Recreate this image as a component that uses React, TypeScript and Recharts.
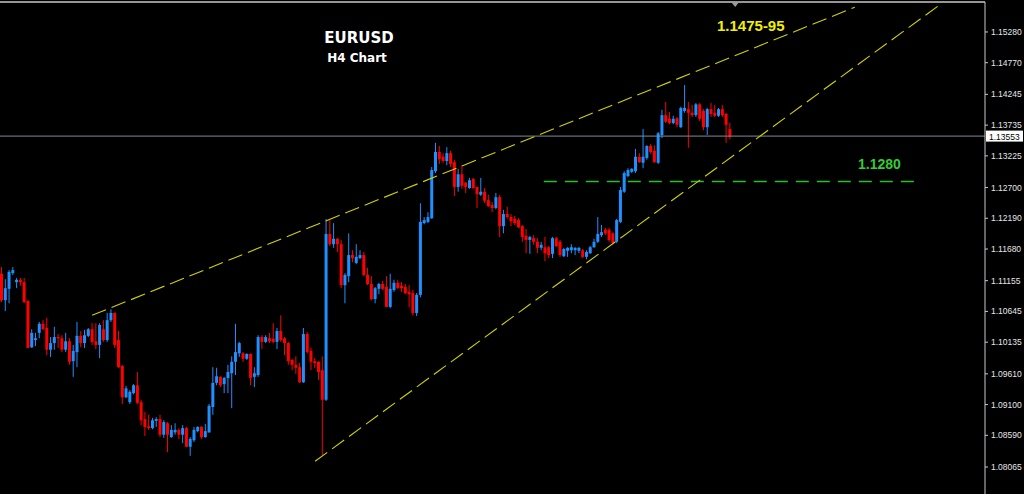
import { Bar, ComposedChart, ReferenceDot, ReferenceLine, XAxis, YAxis } from 'recharts'

document.body.style.margin = '0'
document.body.style.background = '#000'

// EURUSD H4 candles
const opens = [
  1.1127, 1.1083, 1.1102, 1.1128, 1.1113, 1.1117, 1.1113, 1.1082, 1.1005, 1.1017,
  1.1029, 1.1044, 1.1037, 1.1001, 1.1012, 1.1022, 1.1020, 1.1001, 1.1015, 1.0982,
  1.0997, 1.1024, 1.1012, 1.1024, 1.1035, 1.1015, 1.1009, 1.1035, 1.1017, 1.1050,
  1.1062, 1.1017, 1.0974, 1.0922, 1.0914, 1.0929, 1.0942, 1.0914, 1.0886, 1.0874,
  1.0871, 1.0883, 1.0886, 1.0860, 1.0879, 1.0856, 1.0864, 1.0868, 1.0860, 1.0871,
  1.0840, 1.0851, 1.0866, 1.0873, 1.0856, 1.0864, 1.0906, 1.0946, 1.0956, 1.0944,
  1.0954, 1.0962, 1.0981, 1.0995, 1.0995, 1.0986, 1.0994, 1.0956, 1.0959, 1.1022,
  1.1014, 1.1020, 1.1019, 1.1014, 1.1032, 1.1020, 1.1012, 1.0984, 1.0976, 1.0972,
  1.0947, 1.1027, 1.0999, 1.0982, 1.0981, 1.0967, 1.0918, 1.1193, 1.1176, 1.1185,
  1.1176, 1.1108, 1.1123, 1.1158, 1.1145, 1.1153, 1.1158, 1.1125, 1.1110, 1.1085,
  1.1102, 1.1110, 1.1105, 1.1072, 1.1100, 1.1112, 1.1107, 1.1105, 1.1097, 1.1095,
  1.1062, 1.1092, 1.1211, 1.1213, 1.1219, 1.1297, 1.1329, 1.1321, 1.1314, 1.1327,
  1.1312, 1.1271, 1.1292, 1.1278, 1.1269, 1.1284, 1.1271, 1.1258, 1.1263, 1.1249,
  1.1241, 1.1236, 1.1254, 1.1206, 1.1226, 1.1221, 1.1218, 1.1216, 1.1206, 1.1190,
  1.1183, 1.1186, 1.1180, 1.1170, 1.1171, 1.1171, 1.1160, 1.1186, 1.1180, 1.1156,
  1.1165, 1.1166, 1.1166, 1.1165, 1.1166, 1.1155, 1.1161, 1.1171, 1.1180, 1.1191,
  1.1200, 1.1200, 1.1194, 1.1180, 1.1213, 1.1263, 1.1289, 1.1296, 1.1297, 1.1321,
  1.1311, 1.1319, 1.1339, 1.1331, 1.1311, 1.1357, 1.1390, 1.1384, 1.1377, 1.1385,
  1.1370, 1.1397, 1.1400, 1.1394, 1.1390, 1.1408, 1.1397, 1.1370, 1.1400, 1.1394,
  1.1389, 1.1400, 1.1392, 1.1367,
]

const highs = [
  1.1138, 1.1118, 1.1133, 1.1138, 1.1120, 1.1120, 1.1120, 1.1083, 1.1035, 1.1029,
  1.1047, 1.1050, 1.1054, 1.1022, 1.1039, 1.1027, 1.1025, 1.1029, 1.1020, 1.1009,
  1.1047, 1.1032, 1.1034, 1.1037, 1.1045, 1.1045, 1.1045, 1.1050, 1.1062, 1.1068,
  1.1063, 1.1032, 1.0976, 1.0941, 1.0934, 1.0944, 1.0964, 1.0918, 1.0898, 1.0893,
  1.0888, 1.0889, 1.0893, 1.0884, 1.0881, 1.0876, 1.0879, 1.0871, 1.0876, 1.0873,
  1.0856, 1.0873, 1.0874, 1.0874, 1.0878, 1.0911, 1.0972, 1.0971, 1.0957, 1.0956,
  1.0976, 1.0990, 1.1044, 1.1014, 1.0997, 1.0995, 1.0995, 1.0972, 1.1025, 1.1025,
  1.1025, 1.1029, 1.1045, 1.1037, 1.1058, 1.1022, 1.1014, 1.0986, 1.0990, 1.0979,
  1.1037, 1.1030, 1.1004, 1.0987, 1.0982, 1.0990, 1.1218, 1.1216, 1.1211, 1.1186,
  1.1183, 1.1128, 1.1194, 1.1166, 1.1176, 1.1166, 1.1163, 1.1137, 1.1123, 1.1105,
  1.1112, 1.1115, 1.1123, 1.1127, 1.1117, 1.1117, 1.1113, 1.1110, 1.1108, 1.1100,
  1.1095, 1.1244, 1.1221, 1.1229, 1.1304, 1.1344, 1.1339, 1.1327, 1.1337, 1.1331,
  1.1316, 1.1301, 1.1307, 1.1279, 1.1286, 1.1286, 1.1271, 1.1286, 1.1269, 1.1258,
  1.1246, 1.1261, 1.1258, 1.1233, 1.1238, 1.1226, 1.1223, 1.1219, 1.1208, 1.1201,
  1.1190, 1.1191, 1.1186, 1.1180, 1.1188, 1.1173, 1.1188, 1.1188, 1.1183, 1.1170,
  1.1171, 1.1176, 1.1171, 1.1171, 1.1168, 1.1166, 1.1173, 1.1185, 1.1221, 1.1208,
  1.1203, 1.1203, 1.1196, 1.1218, 1.1271, 1.1297, 1.1302, 1.1302, 1.1334, 1.1327,
  1.1367, 1.1340, 1.1342, 1.1340, 1.1362, 1.1399, 1.1412, 1.1395, 1.1389, 1.1387,
  1.1404, 1.1440, 1.1412, 1.1407, 1.1410, 1.1410, 1.1400, 1.1402, 1.1410, 1.1407,
  1.1402, 1.1407, 1.1394, 1.1377,
]

const lows = [
  1.1080, 1.1065, 1.1078, 1.1125, 1.1103, 1.1107, 1.1078, 1.1004, 1.1004, 1.1007,
  1.1020, 1.1034, 1.0992, 1.0989, 1.1001, 1.1004, 1.0997, 1.0997, 1.0976, 1.0956,
  1.0972, 1.1005, 1.1004, 1.1022, 1.1009, 1.1002, 1.0987, 1.1014, 1.1014, 1.1047,
  1.1004, 1.0971, 1.0911, 1.0921, 1.0911, 1.0927, 1.0911, 1.0876, 1.0858, 1.0868,
  1.0869, 1.0873, 1.0856, 1.0855, 1.0831, 1.0855, 1.0860, 1.0853, 1.0846, 1.0840,
  1.0825, 1.0848, 1.0864, 1.0853, 1.0855, 1.0863, 1.0893, 1.0942, 1.0939, 1.0929,
  1.0929, 1.0904, 1.0959, 1.0989, 1.0981, 1.0984, 1.0942, 1.0939, 1.0956, 1.1002,
  1.1012, 1.1012, 1.1012, 1.1002, 1.1014, 1.0992, 1.0976, 1.0967, 1.0961, 1.0946,
  1.0946, 1.0995, 1.0967, 1.0971, 1.0951, 1.0826, 1.0916, 1.1173, 1.1170, 1.1163,
  1.1103, 1.1078, 1.1113, 1.1146, 1.1143, 1.1151, 1.1123, 1.1108, 1.1083, 1.1078,
  1.1093, 1.1100, 1.1072, 1.1070, 1.1097, 1.1102, 1.1097, 1.1093, 1.1072, 1.1058,
  1.1057, 1.1088, 1.1209, 1.1211, 1.1218, 1.1294, 1.1309, 1.1311, 1.1307, 1.1304,
  1.1256, 1.1263, 1.1268, 1.1261, 1.1268, 1.1268, 1.1236, 1.1256, 1.1244, 1.1238,
  1.1229, 1.1234, 1.1188, 1.1194, 1.1218, 1.1206, 1.1208, 1.1203, 1.1180, 1.1161,
  1.1160, 1.1175, 1.1161, 1.1166, 1.1148, 1.1153, 1.1153, 1.1171, 1.1155, 1.1155,
  1.1155, 1.1161, 1.1158, 1.1161, 1.1153, 1.1151, 1.1160, 1.1170, 1.1178, 1.1188,
  1.1191, 1.1180, 1.1176, 1.1178, 1.1211, 1.1261, 1.1287, 1.1294, 1.1294, 1.1311,
  1.1302, 1.1316, 1.1326, 1.1311, 1.1309, 1.1352, 1.1377, 1.1375, 1.1375, 1.1370,
  1.1369, 1.1394, 1.1336, 1.1387, 1.1387, 1.1380, 1.1365, 1.1357, 1.1387, 1.1387,
  1.1387, 1.1387, 1.1344, 1.1350,
]

const closes = [
  1.1083, 1.1103, 1.1130, 1.1133, 1.1117, 1.1113, 1.1080, 1.1004, 1.1029, 1.1020,
  1.1044, 1.1035, 1.1001, 1.1012, 1.1022, 1.1020, 1.1001, 1.1015, 1.0981, 1.0999,
  1.1024, 1.1012, 1.1025, 1.1035, 1.1014, 1.1009, 1.1042, 1.1017, 1.1050, 1.1062,
  1.1009, 1.0972, 1.0922, 1.0937, 1.0931, 1.0942, 1.0913, 1.0884, 1.0873, 1.0871,
  1.0884, 1.0886, 1.0860, 1.0881, 1.0860, 1.0868, 1.0868, 1.0860, 1.0871, 1.0840,
  1.0853, 1.0868, 1.0873, 1.0856, 1.0866, 1.0908, 1.0946, 1.0957, 1.0942, 1.0954,
  1.0964, 1.0981, 1.0997, 1.1012, 1.0986, 1.0994, 1.0954, 1.0962, 1.1022, 1.1014,
  1.1022, 1.1015, 1.1014, 1.1032, 1.1017, 1.1012, 1.0982, 1.0976, 1.0971, 1.0947,
  1.1027, 1.0997, 1.0981, 1.0979, 1.0964, 1.0918, 1.1193, 1.1176, 1.1185, 1.1176,
  1.1108, 1.1125, 1.1158, 1.1153, 1.1155, 1.1158, 1.1125, 1.1110, 1.1085, 1.1103,
  1.1110, 1.1102, 1.1072, 1.1102, 1.1112, 1.1103, 1.1103, 1.1095, 1.1093, 1.1062,
  1.1092, 1.1213, 1.1216, 1.1221, 1.1299, 1.1329, 1.1317, 1.1314, 1.1327, 1.1309,
  1.1271, 1.1292, 1.1273, 1.1271, 1.1282, 1.1269, 1.1259, 1.1263, 1.1248, 1.1239,
  1.1236, 1.1254, 1.1206, 1.1226, 1.1221, 1.1214, 1.1211, 1.1204, 1.1188, 1.1183,
  1.1188, 1.1180, 1.1170, 1.1175, 1.1161, 1.1158, 1.1186, 1.1173, 1.1158, 1.1168,
  1.1170, 1.1171, 1.1170, 1.1170, 1.1155, 1.1163, 1.1171, 1.1180, 1.1193, 1.1196,
  1.1194, 1.1183, 1.1178, 1.1216, 1.1266, 1.1294, 1.1299, 1.1301, 1.1321, 1.1312,
  1.1321, 1.1339, 1.1329, 1.1312, 1.1360, 1.1390, 1.1379, 1.1377, 1.1384, 1.1374,
  1.1402, 1.1402, 1.1394, 1.1390, 1.1408, 1.1384, 1.1370, 1.1400, 1.1392, 1.1389,
  1.1400, 1.1390, 1.1374, 1.1354,
]

const priceTicks = [
  1.1528, 1.1477, 1.14245, 1.13735, 1.13225, 1.127, 1.1219, 1.1168,
  1.11155, 1.10645, 1.10135, 1.0961, 1.091, 1.0859, 1.08065,
]
const priceDomain = [1.07617, 1.15777]
const lastPrice = 1.13553

// trend lines: [bar index, price]
const upperTrend = [
  { x: 23.9, y: 1.1058 },
  { x: 226, y: 1.1569 },
]
const lowerTrend = [
  { x: 83, y: 1.0816 },
  { x: 248.5, y: 1.1573 },
]
const supportLevel = 1.128
const supportSpan = [143.6, 242.7]
const markerBar = 194.3

const data = opens.map((open, i) => ({
  i,
  open,
  high: highs[i],
  low: lows[i],
  close: closes[i],
  range: [lows[i], highs[i]],
}))

function Candle(props: any) {
  const { x, y, width, height, payload } = props
  if (x == null || y == null) return null
  const { open, close, high, low } = payload
  const top = Math.min(y, y + height)
  const h = Math.abs(height)
  const cx = x + width / 2
  const span = high - low
  const toY = (v: number) => (span > 0 ? top + ((high - v) / span) * h : top)
  const up = close >= open
  const color = up ? '#1e90ff' : '#ff0000'
  const bTop = toY(Math.max(open, close))
  const bBot = toY(Math.min(open, close))
  return (
    <g>
      <line x1={cx} x2={cx} y1={top} y2={top + h} stroke={color} strokeWidth={1} />
      <rect x={cx - 1.5} y={bTop} width={3} height={Math.max(1, bBot - bTop)} fill={color} />
    </g>
  )
}

function PriceTag(props: any) {
  const vb = props.viewBox
  if (!vb) return null
  const x = vb.x + vb.width
  return (
    <g>
      <rect x={x + 1} y={vb.y - 5.5} width={37} height={11} fill="#ffffff" />
      <text x={x + 4} y={vb.y + 3.5} fontSize={8.5} fontFamily="Liberation Sans" fill="#000">
        {lastPrice.toFixed(5)}
      </text>
    </g>
  )
}

function Marker(props: any) {
  const { cx } = props
  if (cx == null) return null
  return <polygon points={`${cx - 4},2 ${cx + 4},2 ${cx},7`} fill="#9a9a9a" />
}

export default function App() {
  return (
    <div style={{ position: 'relative', width: 1024, height: 494, background: '#000', overflow: 'hidden' }}>
      <ComposedChart width={1024} height={494} data={data} margin={{ top: 2, right: 0, bottom: 0, left: 0 }}>
        <XAxis dataKey="i" type="number" domain={[-0.5, 260.5]} hide allowDataOverflow />
        <YAxis
          orientation="right"
          domain={priceDomain}
          ticks={priceTicks}
          interval={0}
          allowDataOverflow
          width={39}
          tickSize={3}
          tickMargin={3}
          tickFormatter={(v: number) => v.toFixed(5)}
          tick={{ fill: '#e6e6e6', fontSize: 8.5, fontFamily: 'Liberation Sans' }}
          axisLine={{ stroke: '#c8c8c8' }}
          tickLine={{ stroke: '#c8c8c8' }}
        />
        <ReferenceLine y={priceDomain[1]} stroke="#c8c8c8" strokeWidth={1.5} ifOverflow="visible" />
        <ReferenceLine y={lastPrice} stroke="#7f8a96" strokeWidth={1} label={<PriceTag />} />
        <ReferenceLine
          segment={[{ x: supportSpan[0], y: supportLevel }, { x: supportSpan[1], y: supportLevel }]}
          stroke="#22c322"
          strokeWidth={1.5}
          strokeOpacity={1}
          strokeDasharray="13 8"
        />
        <ReferenceLine segment={upperTrend} stroke="#d2d200" strokeWidth={1.1} strokeDasharray="15 6" />
        <ReferenceLine segment={lowerTrend} stroke="#d2d200" strokeWidth={1.1} strokeDasharray="15 6" />
        <Bar dataKey="range" barSize={3} shape={<Candle />} isAnimationActive={false} />
        <ReferenceDot x={markerBar} y={priceDomain[1]} shape={<Marker />} ifOverflow="visible" />
      </ComposedChart>
      <svg width={1024} height={494} style={{ position: 'absolute', left: 0, top: 0, pointerEvents: 'none' }}>
        <text x={359} y={43} textAnchor="middle" fontFamily="DejaVu Sans" fontWeight="bold" fontSize={15} fill="#fff">
          EURUSD
        </text>
        <text x={357} y={62} textAnchor="middle" fontFamily="DejaVu Sans" fontWeight="bold" fontSize={12} fill="#fff">
          H4 Chart
        </text>
        <text x={717} y={31} fontFamily="Liberation Sans" fontWeight="bold" fontSize={15} fill="#f0f000">
          1.1475-95
        </text>
        <text x={858} y={169} fontFamily="Liberation Sans" fontWeight="bold" fontSize={14} fill="#33cc33">
          1.1280
        </text>
      </svg>
    </div>
  )
}
